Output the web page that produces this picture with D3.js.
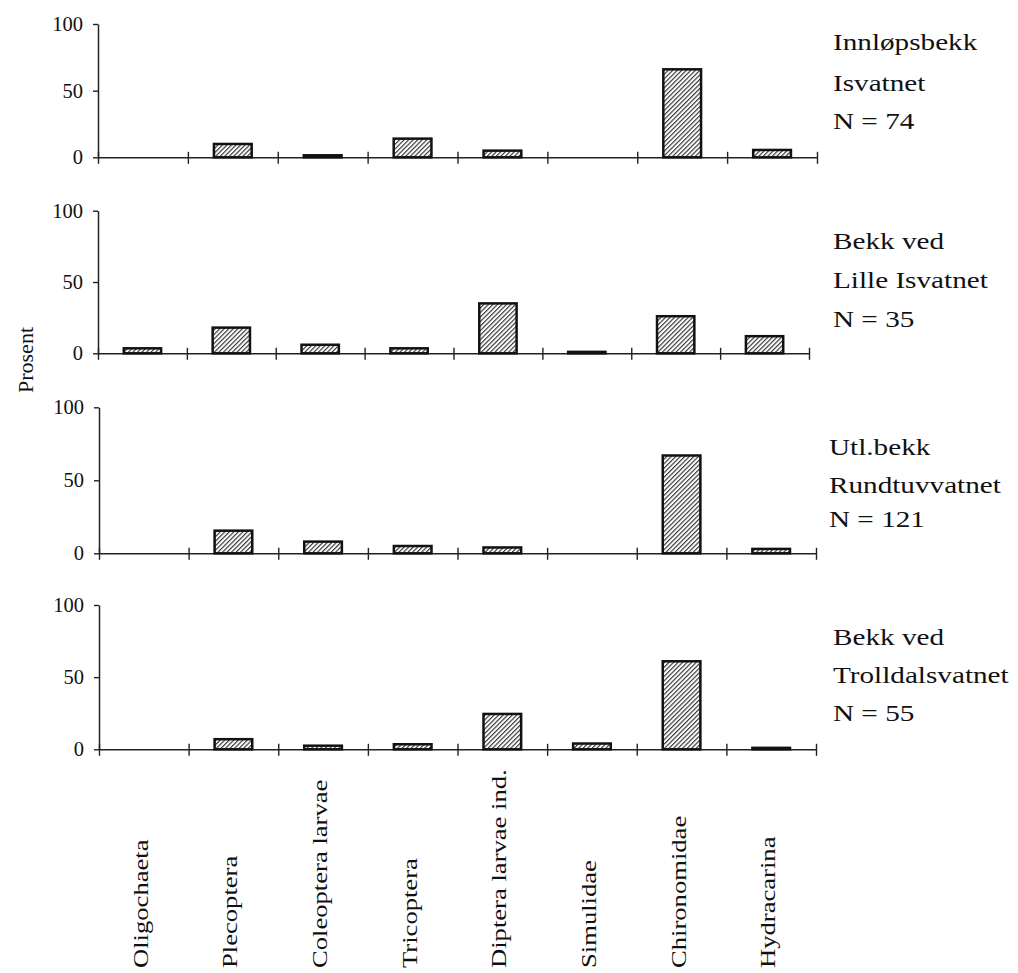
<!DOCTYPE html>
<html><head><meta charset="utf-8">
<script src="https://cdn.jsdelivr.net/npm/d3@7"></script>
<style>
body{margin:0;background:#fff}
text{font-family:"Liberation Serif","Times New Roman",serif;fill:#111}
</style>
</head><body>
<svg id="c" width="1018" height="973"></svg>
<script>
// ---- data ----
const categories = ["Oligochaeta","Plecoptera","Coleoptera larvae","Tricoptera","Diptera larvae ind.","Simulidae","Chironomidae","Hydracarina"];
const siteNames = [["Innløpsbekk","Isvatnet"],["Bekk ved","Lille Isvatnet"],["Utl.bekk","Rundtuvvatnet"],["Bekk ved","Trolldalsvatnet"]];
const siteN = [74, 35, 121, 55];
const innlopsbekkIsvatnet = [0, 10, 1.5, 14, 5, 0, 66, 5.5];
const bekkLilleIsvatnet   = [3.5, 18, 6, 3.5, 35, 1, 26, 12];
const utlbekkRundtuvvatnet= [0, 15.5, 8, 5, 4, 0, 67, 3];
const bekkTrolldalsvatnet = [0, 7, 2.5, 3.5, 24.5, 4, 61, 1];
const yTicks = [0, 50, 100];
const yLabel = "Prosent";

const series = [innlopsbekkIsvatnet, bekkLilleIsvatnet, utlbekkRundtuvvatnet, bekkTrolldalsvatnet];

// ---- layout (positions only) ----
const layout = [
  {y0:157.3, y100:24,    xl:98, xr:817, lx:833, lb:[50, 90.7, 129.3]},
  {y0:353.3, y100:210.7, xl:98, xr:809, lx:833, lb:[249.3, 288.3, 326.7]},
  {y0:553.3, y100:407.3, xl:99, xr:816, lx:829, lb:[455, 493.3, 527]},
  {y0:749.3, y100:605,   xl:99, xr:816, lx:833, lb:[645, 683, 721]}
];
const wideScale = 1.27;

const svg = d3.select("#c");
const defs = svg.append("defs");
const pat = defs.append("pattern").attr("id","hatch")
  .attr("patternUnits","userSpaceOnUse").attr("width",3.2).attr("height",3.2)
  .attr("patternTransform","rotate(45)");
pat.append("rect").attr("width",3.2).attr("height",3.2).attr("fill","#fff");
pat.append("line").attr("x1",0.6).attr("y1",-1).attr("x2",0.6).attr("y2",5)
  .attr("stroke","#2a2a2a").attr("stroke-width",1.1);

let lastX = null;
series.forEach((vals, i) => {
  const L = layout[i];
  const g = svg.append("g");
  const y = d3.scaleLinear().domain([0,100]).range([L.y0, L.y100]);
  const x = d3.scaleBand().domain(categories).range([L.xl, L.xr]);
  const xb = d3.scaleLinear().domain([0, categories.length]).range([L.xl, L.xr]);
  lastX = x;

  // x axis (baseline with crossing boundary ticks)
  const xa = g.append("g").attr("transform",`translate(0,${L.y0})`)
    .call(d3.axisBottom(xb).tickValues(d3.range(categories.length+1)).tickSize(6.5).tickSizeOuter(0).tickFormat(""));
  xa.select(".domain").attr("stroke","#222").attr("stroke-width",1.5);
  xa.selectAll(".tick line").attr("y1",-5.5).attr("stroke","#222").attr("stroke-width",1.4);

  // y axis
  const ya = g.append("g").attr("transform",`translate(${L.xl},0)`)
    .call(d3.axisLeft(y).tickValues(yTicks).tickSize(5).tickSizeOuter(0).tickPadding(10));
  ya.attr("font-family",null).attr("font-size",null);
  ya.select(".domain").attr("stroke","#222").attr("stroke-width",1.5);
  ya.selectAll(".tick line").attr("stroke","#222").attr("stroke-width",1.4);
  ya.selectAll(".tick text").style("font-size","20.5px").attr("fill","#111");

  // bars
  const bw = x.bandwidth()*0.42;
  g.selectAll("rect.bar").data(categories.map((c,k)=>({c, v: vals[k]})).filter(d=>d.v>0))
    .join("rect").attr("class","bar")
    .attr("x", d => x(d.c) + (x.bandwidth()-bw)/2)
    .attr("y", d => y(d.v))
    .attr("width", bw)
    .attr("height", d => y(0)-y(d.v))
    .attr("fill","url(#hatch)")
    .attr("stroke","#111").attr("stroke-width",2.5);

  // site labels
  const lines = [siteNames[i][0], siteNames[i][1], "N = " + siteN[i]];
  lines.forEach((t, k) => {
    g.append("text").attr("transform",`translate(${L.lx},${L.lb[k]}) scale(${wideScale},1)`)
      .style("font-size","23px").text(t);
  });
});

// category labels (rotated)
categories.forEach(c => {
  svg.append("text")
    .attr("transform",`translate(${lastX(c)+lastX.bandwidth()/2+4},968) rotate(-90) scale(1.21,1)`)
    .style("font-size","22px").text(c);
});

// y label
svg.append("text").attr("transform","translate(33,360) rotate(-90)")
  .attr("text-anchor","middle").style("font-size","22px").text(yLabel);
</script>
</body></html>
